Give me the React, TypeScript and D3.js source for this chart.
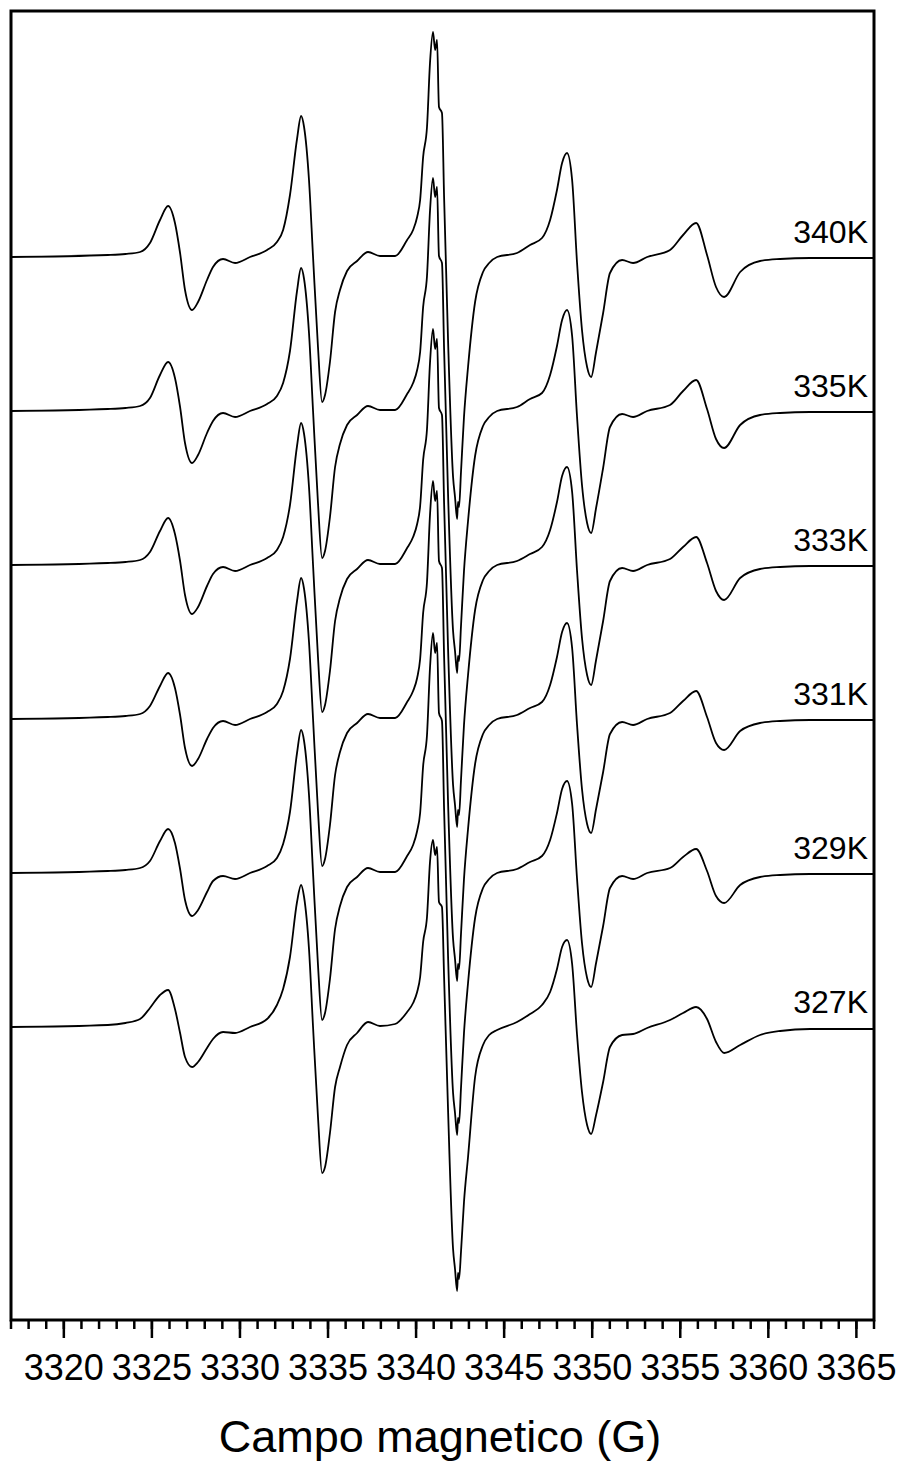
import React from 'react';
import * as d3 from 'd3';

// Magnetic field grid (G)
const field = [
  3317.0, 3322.5, 3323.5, 3324.33, 3324.89, 3325.46, 3325.92, 3326.31, 3326.6, 3326.88, 3327.28,
  3327.62, 3328.13, 3328.47, 3329.04, 3329.72, 3330.57, 3331.54, 3332.1, 3332.45, 3332.84,
  3333.24, 3333.47, 3333.64, 3333.92, 3334.15, 3334.43, 3334.66, 3334.83, 3335.11, 3335.4,
  3335.68, 3336.08, 3336.65, 3337.27, 3337.95, 3338.81, 3339.49, 3339.83, 3340.06, 3340.23,
  3340.4, 3340.62, 3340.79, 3340.96, 3341.08, 3341.19, 3341.3, 3341.47, 3341.59, 3341.81,
  3342.1, 3342.21, 3342.33, 3342.38, 3342.44, 3342.55, 3342.72, 3342.95, 3343.35, 3343.8,
  3344.15, 3344.6, 3345.73, 3346.47, 3347.15, 3347.61, 3348.0, 3348.29, 3348.57, 3348.86, 3349.14,
  3349.42, 3349.71, 3349.94, 3350.22, 3350.62, 3351.01, 3351.7, 3352.32, 3353.12, 3354.42,
  3355.16, 3355.9, 3356.52, 3357.03, 3357.49, 3358.4, 3359.53, 3360.67, 3362.37, 3366.0,
];

// EPR signal (a.u.) for each temperature
const s340 = [
  0, 2, 3, 5, 14, 37, 51, 34, 4, -33, -53,
  -45, -23, -10, -2, -6, 0, 7, 15, 27, 62,
  118, 141, 130, 77, 0, -90, -145, -138, -105, -55,
  -33, -14, -4, 5, 1, 1, 17, 27, 40, 57,
  100, 130, 194, 225, 207, 217, 150, 144, 60, -80,
  -220, -240, -262, -245, -250, -215, -160, -110, -45, -15,
  -6, 0, 4, 12, 19, 37, 67, 94, 104, 77, -6,
  -73, -110, -120, -95, -56, -16, -3, -6, 0, 7,
  22, 34, 2, -30, -40, -15, -4, -2, -1, -1,
];
const s335 = [
  0, 2, 3, 5, 13, 36, 49, 33, 4, -32, -52,
  -44, -22, -10, -2, -6, 0, 7, 15, 28, 60,
  120, 143, 132, 78, 0, -92, -147, -140, -106, -56,
  -33, -14, -4, 5, 1, 1, 17, 28, 41, 59,
  104, 135, 200, 233, 214, 224, 155, 148, 62, -80,
  -220, -240, -262, -245, -250, -215, -160, -110, -45, -15,
  -6, 0, 4, 12, 18, 36, 65, 91, 101, 75, -6,
  -74, -112, -122, -97, -57, -16, -3, -6, 0, 6,
  20, 31, 2, -28, -37, -14, -4, -2, -1, -1,
];
const s333 = [
  0, 2, 3, 5, 13, 34, 47, 31, 4, -30, -49,
  -42, -21, -9, -2, -6, 0, 7, 15, 28, 60,
  119, 142, 131, 78, 0, -92, -147, -140, -106, -56,
  -33, -14, -4, 5, 1, 1, 17, 28, 41, 59,
  105, 136, 202, 236, 216, 226, 157, 150, 62, -80,
  -220, -240, -262, -245, -250, -215, -160, -110, -45, -15,
  -6, 0, 4, 11, 18, 35, 63, 89, 98, 73, -6,
  -73, -110, -120, -95, -56, -16, -3, -6, 0, 6,
  18, 28, 2, -26, -35, -13, -4, -2, -1, -1,
];
const s331 = [
  0, 2, 3, 5, 13, 33, 46, 31, 4, -29, -47,
  -40, -20, -9, -2, -6, 0, 7, 15, 28, 60,
  118, 141, 130, 77, 0, -92, -147, -140, -106, -56,
  -33, -14, -4, 5, 1, 1, 17, 28, 41, 60,
  106, 137, 204, 238, 218, 228, 158, 151, 63, -80,
  -220, -240, -262, -245, -250, -215, -160, -110, -45, -15,
  -6, 0, 4, 11, 17, 34, 62, 87, 96, 71, -6,
  -70, -105, -114, -90, -53, -15, -3, -6, 0, 6,
  18, 28, 2, -24, -31, -12, -4, -2, -1, -1,
];
const s329 = [
  0, 2, 3, 5, 12, 32, 44, 30, 4, -27, -43,
  -37, -19, -8, -3, -6, 0, 7, 15, 29, 61,
  120, 143, 132, 78, 0, -92, -147, -140, -106, -56,
  -33, -14, -4, 5, 1, 1, 17, 28, 42, 60,
  107, 138, 205, 240, 220, 230, 160, 152, 64, -80,
  -220, -240, -262, -245, -250, -215, -160, -110, -45, -15,
  -6, 0, 4, 11, 17, 33, 60, 84, 92, 69, -6,
  -70, -105, -114, -90, -53, -15, -3, -6, 0, 5,
  16, 24, 2, -23, -30, -12, -4, -2, -1, -1,
];
const s327 = [
  0, 2, 4, 8, 19, 32, 37, 18, -6, -30, -40,
  -35, -21, -12, -5, -6, 0, 8, 22, 38, 70,
  125, 142, 130, 78, 0, -90, -146, -140, -106, -60,
  -40, -18, -6, 5, 1, 3, 15, 24, 35, 50,
  85, 110, 165, 187, 172, 180, 125, 120, 50, -80,
  -222, -242, -264, -246, -252, -225, -175, -130, -50, -18,
  -8, -3, 5, 13, 22, 35, 58, 80, 87, 63, -8,
  -65, -98, -107, -88, -55, -20, -8, -7, -1, 7,
  14, 20, 8, -15, -26, -18, -8, -4, -2, -2,
];

const temps = ['340K', '335K', '333K', '331K', '329K', '327K'];
const offsets = [770, 616, 462, 308, 154, 0];
const majorTicks = [3320, 3325, 3330, 3335, 3340, 3345, 3350, 3355, 3360, 3365];
const xLabel = 'Campo magnetico (G)';

const W = 902;
const H = 1462;
const M = { left: 11, right: 874, top: 11, bottom: 1320 };
const FONT = '"Liberation Sans", Arial, Helvetica, sans-serif';

export default function App() {
  const series = [s340, s335, s333, s331, s329, s327];
  const x = d3.scaleLinear().domain([3317, 3366]).range([M.left, M.right]);
  const y = d3.scaleLinear().domain([-293, 1016]).range([M.bottom, M.top]);
  const minorTicks = d3.range(3317, 3367, 1);

  return (
    <svg
      width={W}
      height={H}
      style={{ position: 'absolute', left: 0, top: 0, background: '#fff' }}
      fontFamily={FONT}
    >
      <rect x={0} y={0} width={W} height={H} fill="#fff" />
      {series.map((s, i) => {
        const pts: [number, number][] = field.map((f, j) => [f, s[j] + offsets[i]]);
        const line = d3
          .line<[number, number]>()
          .x((d) => x(d[0]))
          .y((d) => y(d[1]))
          .curve(d3.curveMonotoneX);
        return (
          <g key={temps[i]}>
            <path d={line(pts) || ''} fill="none" stroke="#000" strokeWidth={1.8} strokeLinejoin="round" />
            <text
              x={M.right - 6}
              y={y(offsets[i]) - 14}
              textAnchor="end"
              fontSize={32}
              fill="#000"
            >
              {temps[i]}
            </text>
          </g>
        );
      })}
      <rect
        x={M.left}
        y={M.top}
        width={M.right - M.left}
        height={M.bottom - M.top}
        fill="none"
        stroke="#000"
        strokeWidth={3}
      />
      {minorTicks.map((t) => (
        <line key={'m' + t} x1={x(t)} x2={x(t)} y1={M.bottom} y2={M.bottom + 9} stroke="#000" strokeWidth={2.5} />
      ))}
      {majorTicks.map((t) => (
        <g key={'M' + t}>
          <line x1={x(t)} x2={x(t)} y1={M.bottom} y2={M.bottom + 18} stroke="#000" strokeWidth={2.5} />
          <text x={x(t)} y={1380} textAnchor="middle" fontSize={36} fill="#000">
            {t}
          </text>
        </g>
      ))}
      <text x={440} y={1452} textAnchor="middle" fontSize={45} fill="#000">
        {xLabel}
      </text>
    </svg>
  );
}
